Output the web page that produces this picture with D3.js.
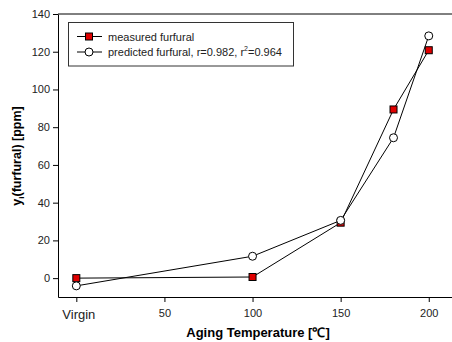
<!DOCTYPE html>
<html>
<head>
<meta charset="utf-8">
<script src="https://cdn.jsdelivr.net/npm/d3@7"></script>
<style>
  body { margin: 0; background: #fff; }
  svg { display: block; font-family: Arial, "Liberation Sans", sans-serif; }
</style>
</head>
<body>
<div id="chart"></div>
<script>
const temps = [0, 100, 150, 180, 200];
const measured = [0, 0.6, 29.4, 89.4, 120.8];
const predicted = [-4.1, 11.6, 30.6, 74.4, 128.4];
const xTicks = [0, 50, 100, 150, 200];
const xTickLabels = ["Virgin", "50", "100", "150", "200"];
const yTicks = [0, 20, 40, 60, 80, 100, 120, 140];

const width = 452, height = 342;
const margin = { top: 14, right: -12, bottom: 45, left: 58 };
const w = width - margin.left - margin.right;
const h = height - margin.top - margin.bottom;

const svg = d3.select("#chart").append("svg")
  .attr("width", width)
  .attr("height", height);

const g = svg.append("g")
  .attr("transform", `translate(${margin.left},${margin.top})`);

const x = d3.scaleLinear().domain([-10.4, 220]).range([0, w]);
const y = d3.scaleLinear().domain([-10, 140]).range([h, 0]);

// frame: top line
g.append("line")
  .attr("x1", 0).attr("x2", w)
  .attr("y1", 0).attr("y2", 0)
  .attr("stroke", "#000").attr("stroke-width", 1);

// axes
const xAxis = g.append("g")
  .attr("transform", `translate(0,${h})`)
  .call(d3.axisBottom(x).tickValues(xTicks).tickSize(5).tickSizeOuter(0)
    .tickFormat((d, i) => xTickLabels[i]));
xAxis.selectAll("text")
  .attr("font-size", 11).attr("fill", "#222").attr("dy", "1.05em");
xAxis.selectAll(".tick text").filter((d, i) => i === 0)
  .attr("font-size", 13).attr("dy", "1.1em").attr("dx", 2);

const yAxis = g.append("g")
  .call(d3.axisLeft(y).tickValues(yTicks).tickSize(5).tickSizeOuter(0));
yAxis.selectAll("text").attr("font-size", 11).attr("fill", "#222");

svg.selectAll(".domain").attr("stroke", "#000");
svg.selectAll(".tick line").attr("stroke", "#000");

// axis titles
svg.append("text")
  .attr("x", 258).attr("y", 337)
  .attr("text-anchor", "middle")
  .attr("font-size", 13).attr("font-weight", "bold")
  .text("Aging Temperature [℃]");

const yl = svg.append("text")
  .attr("transform", "translate(21,156) rotate(-90)")
  .attr("text-anchor", "middle")
  .attr("font-size", 12.5).attr("font-weight", "bold");
yl.append("tspan").text("y");
yl.append("tspan").attr("font-size", 8).attr("dy", 3).text("i");
yl.append("tspan").attr("dy", -3).text("(furfural) [ppm]");

// series
const line = d3.line().x(d => x(d[0])).y(d => y(d[1]));
const measPts = temps.map((t, i) => [t, measured[i]]);
const predPts = temps.map((t, i) => [t, predicted[i]]);

g.append("path").datum(measPts)
  .attr("d", line).attr("fill", "none").attr("stroke", "#000").attr("stroke-width", 1);
g.append("path").datum(predPts)
  .attr("d", line).attr("fill", "none").attr("stroke", "#000").attr("stroke-width", 1);

g.selectAll("rect.meas").data(measPts).join("rect")
  .attr("class", "meas")
  .attr("x", d => x(d[0]) - 3.5).attr("y", d => y(d[1]) - 3.5)
  .attr("width", 7).attr("height", 7)
  .attr("fill", "#e00000").attr("stroke", "#000").attr("stroke-width", 1);

g.selectAll("circle.pred").data(predPts).join("circle")
  .attr("class", "pred")
  .attr("cx", d => x(d[0])).attr("cy", d => y(d[1]))
  .attr("r", 4)
  .attr("fill", "#fff").attr("stroke", "#000").attr("stroke-width", 1);

// legend
const lg = svg.append("g");
lg.append("rect")
  .attr("x", 68.5).attr("y", 22.5).attr("width", 225).attr("height", 43.5)
  .attr("fill", "#fff").attr("stroke", "#333").attr("stroke-width", 1);
lg.append("line").attr("x1", 77).attr("x2", 102).attr("y1", 36.5).attr("y2", 36.5)
  .attr("stroke", "#000");
lg.append("rect").attr("x", 85.5).attr("y", 33).attr("width", 7).attr("height", 7)
  .attr("fill", "#e00000").attr("stroke", "#000");
lg.append("line").attr("x1", 77).attr("x2", 102).attr("y1", 52).attr("y2", 52)
  .attr("stroke", "#000");
lg.append("circle").attr("cx", 89).attr("cy", 52).attr("r", 4)
  .attr("fill", "#fff").attr("stroke", "#000");
lg.append("text").attr("x", 108).attr("y", 40.5).attr("font-size", 11).attr("fill", "#222")
  .text("measured furfural");
const t2 = lg.append("text").attr("x", 108).attr("y", 56).attr("font-size", 11).attr("fill", "#222");
t2.append("tspan").text("predicted furfural, r=0.982, r");
t2.append("tspan").attr("font-size", 7).attr("dy", -5).text("2");
t2.append("tspan").attr("dy", 5).text("=0.964");
</script>
</body>
</html>
